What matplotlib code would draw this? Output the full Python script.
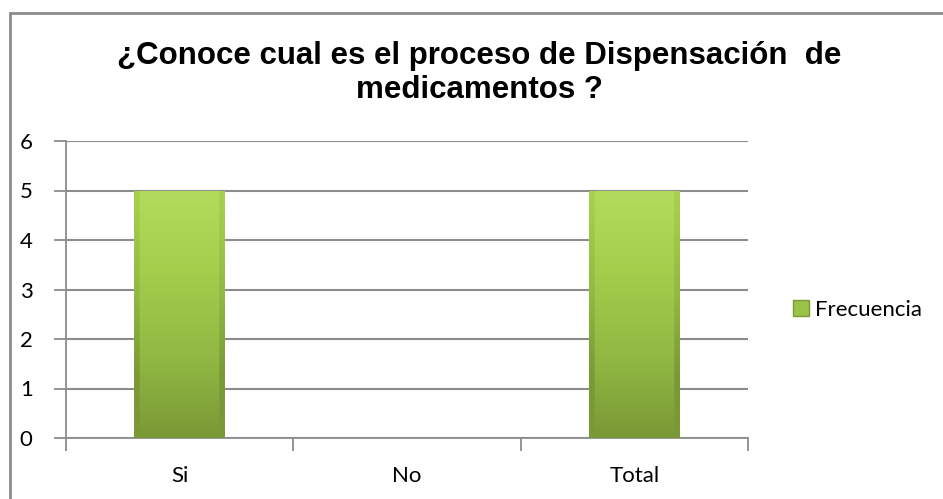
import numpy as np
import matplotlib
matplotlib.use("Agg")
import matplotlib.pyplot as plt
from matplotlib.colors import LinearSegmentedColormap
from matplotlib.patches import Rectangle, Patch

# datos
categorias = ["Si", "No", "Total"]
frecuencia = [5, 0, 5]
titulo = "¿Conoce cual es el proceso de Dispensación  de\nmedicamentos ?"

fig = plt.figure(figsize=(9.43, 4.99), dpi=100)
ax = fig.add_axes([66 / 943, 61 / 499, 682 / 943, 297 / 499])

# borde del gráfico (solo se ven arriba e izquierda)
fig.add_artist(Rectangle((10 / 943, -0.1), 1.2, (499 - 13) / 499 + 0.1,
                         transform=fig.transFigure, fill=False,
                         edgecolor="#8c8c8c", linewidth=2))

x = np.arange(len(categorias))
barras = ax.bar(x, frecuencia, width=0.4, color="#9bc348", zorder=3)

# degradado verde estilo Excel
cmap = LinearSegmentedColormap.from_list("verde", ["#7a9936", "#91b943", "#a4cd4c", "#b3dc5e"])
grad = np.linspace(0, 1, 256).reshape(-1, 1)
hgrad = np.abs(np.linspace(-1, 1, 64)).reshape(1, -1)
for b in barras:
    if b.get_height() == 0:
        continue
    x0, y0 = b.get_x(), b.get_y()
    w, h = b.get_width(), b.get_height()
    img = ax.imshow(grad * np.ones((1, 64)) - 0.25 * (hgrad > 0.9), cmap=cmap, origin="lower",
                    extent=(x0, x0 + w, y0, y0 + h), aspect="auto", zorder=4, vmin=0, vmax=1)
    img.set_clip_path(b)

fuente = "Lato"
ax.set_xlim(-0.5, 2.5)
ax.set_ylim(0, 6)
ax.set_yticks(range(0, 7))
ax.set_xticks([-0.5, 0.5, 1.5, 2.5], minor=False)
ax.set_xticklabels([])
ax.set_xticks(x, minor=True)
ax.set_xticklabels(categorias, minor=True)
ax.tick_params(axis="x", which="major", length=9, color="#8c8c8c", width=1.3)
ax.tick_params(axis="x", which="minor", length=0, pad=20, labelsize=16)
ax.tick_params(axis="y", length=9, color="#8c8c8c", width=1.3, labelsize=16, pad=15)
for lab in ax.get_xticklabels(minor=True) + ax.get_yticklabels():
    lab.set_fontfamily(fuente)

ax.grid(axis="y", color="#8c8c8c", linewidth=1.5, zorder=0)
ax.set_axisbelow(True)
for s in ["top", "right"]:
    ax.spines[s].set_visible(False)
ax.spines["left"].set_color("#8c8c8c")
ax.spines["bottom"].set_color("#8c8c8c")
ax.spines["left"].set_linewidth(1.3)
ax.spines["bottom"].set_linewidth(1.3)

fig.text(479 / 943, 1 - 73 / 499, titulo, ha="center", va="center", fontsize=22.5,
         fontweight="bold", family="Liberation Sans", linespacing=1.15)

leg = fig.legend(handles=[Patch(facecolor="#9bc348", edgecolor="#7a9936", label="Frecuencia")],
                 loc="center left", bbox_to_anchor=(773 / 943, 1 - 310 / 499),
                 frameon=False, prop={"family": fuente, "size": 16},
                 handlelength=0.7, handleheight=0.7, handletextpad=0.3)

fig.savefig("out.png", dpi=100)
